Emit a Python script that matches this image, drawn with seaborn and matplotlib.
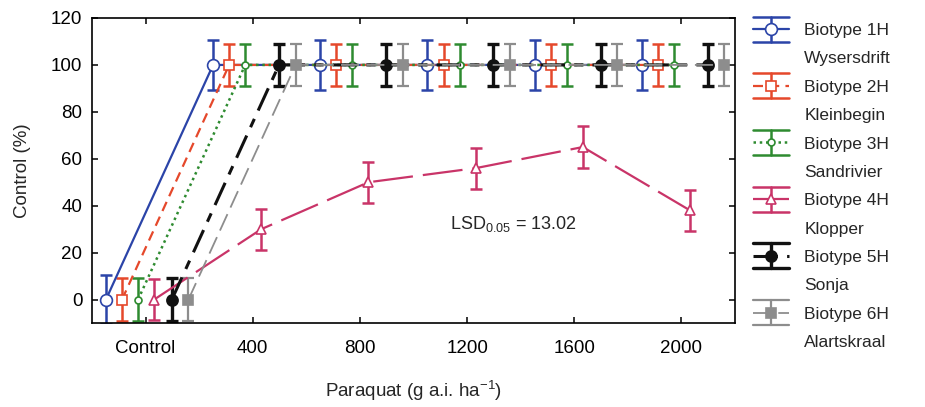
import numpy as np
import pandas as pd
import matplotlib
matplotlib.use("Agg")
import matplotlib.pyplot as plt
import seaborn as sns
from matplotlib.lines import Line2D
from matplotlib.legend_handler import HandlerBase

# Paraquat rates (categorical x axis)
rates = ["Control", "400", "800", "1200", "1600", "2000"]

# Biotype names and collection sites
biotypes = ["Biotype 1H", "Biotype 2H", "Biotype 3H", "Biotype 4H", "Biotype 5H", "Biotype 6H"]
sites = ["Wysersdrift", "Kleinbegin", "Sandrivier", "Klopper", "Sonja", "Alartskraal"]

# Control (%) per biotype across rates
control_1h = [0, 100, 100, 100, 100, 100]
control_2h = [0, 100, 100, 100, 100, 100]
control_3h = [0, 100, 100, 100, 100, 100]
control_4h = [0, 30, 50, 56, 65, 38]
control_5h = [0, 100, 100, 100, 100, 100]
control_6h = [0, 100, 100, 100, 100, 100]

# Half-width of the error bars per biotype
error_1h = 10.5
error_2h = 9.0
error_3h = 9.0
error_4h = 8.8
error_5h = 9.0
error_6h = 9.0

lsd_text = "LSD$_{0.05}$ = 13.02"

values = [control_1h, control_2h, control_3h, control_4h, control_5h, control_6h]
errors = [error_1h, error_2h, error_3h, error_4h, error_5h, error_6h]

# Visual style of each biotype
styles = [
    dict(color="#2b44a8", linestyle="-", linewidth=1.6, marker="o", markersize=8.5, mfc="white", elw=1.8),
    dict(color="#e5482b", linestyle=(0, (4.5, 2.8)), linewidth=1.6, marker="s", markersize=7.5, mfc="white", elw=1.8),
    dict(color="#2e8b30", linestyle=(0, (1.0, 1.5)), linewidth=1.8, marker="o", markersize=5.0, mfc="white", elw=1.8),
    dict(color="#c93468", linestyle=(0, (18, 4.5)), linewidth=1.6, marker="^", markersize=7.0, mfc="white", elw=1.8),
    dict(color="#111111", linestyle=(0, (8, 3, 3, 3)), linewidth=2.2, marker="o", markersize=8.0, mfc="#111111", elw=2.4),
    dict(color="#8d8d8d", linestyle=(0, (10, 4)), linewidth=1.3, marker="s", markersize=7.0, mfc="#8d8d8d", elw=1.6),
]
# Horizontal dodge of each biotype within a rate group
offsets = [-0.37, -0.22, -0.07, 0.08, 0.245, 0.40]

sns.set_style("ticks")
plt.rcParams["font.family"] = ["Liberation Sans", "DejaVu Sans"]
plt.rcParams["mathtext.fontset"] = "custom"
plt.rcParams["mathtext.rm"] = "Liberation Sans"
plt.rcParams["mathtext.it"] = "Liberation Sans:italic"
plt.rcParams["mathtext.bf"] = "Liberation Sans:bold"
plt.rcParams["mathtext.default"] = "regular"

rows = []
for name, vals, off in zip(biotypes, values, offsets):
    for i, (r, v) in enumerate(zip(rates, vals)):
        rows.append(dict(biotype=name, rate=r, pos=i + off, control=v))
df = pd.DataFrame(rows)

fig = plt.figure(figsize=(9.25, 4.07), dpi=100)
ax = fig.add_axes([92 / 925, (407 - 323) / 407, 643 / 925, 305 / 407])

handles = []
for name, err, st in zip(biotypes, errors, styles):
    sub = df[df["biotype"] == name]
    ax.errorbar(sub["pos"], sub["control"], yerr=err, fmt="none",
                ecolor=st["color"], elinewidth=st["elw"], capsize=4.3,
                capthick=st["elw"], zorder=2)
    sns.lineplot(data=sub, x="pos", y="control", ax=ax, color=st["color"],
                 linestyle=st["linestyle"], linewidth=st["linewidth"],
                 marker=st["marker"], markersize=st["markersize"],
                 markerfacecolor=st["mfc"], markeredgecolor=st["color"],
                 markeredgewidth=1.2, errorbar=None, sort=False, zorder=3)
    handles.append(Line2D([], [], color=st["color"], linestyle=st["linestyle"],
                          linewidth=st["linewidth"], marker=st["marker"],
                          markersize=st["markersize"], markerfacecolor=st["mfc"],
                          markeredgecolor=st["color"], markeredgewidth=1.2))


class ErrorbarKey(HandlerBase):
    """Legend key: series line with an error bar whose caps span the key."""

    def __init__(self, elw, **kw):
        super().__init__(**kw)
        self.elw = elw

    def create_artists(self, legend, orig_handle, xdescent, ydescent,
                       width, height, fontsize, trans):
        x0, x1 = -xdescent, width - xdescent
        xm = 0.5 * (x0 + x1)
        y0 = 0.5 * height - ydescent
        e = 9.0
        col = orig_handle.get_color()
        line = Line2D([x0, x1], [y0, y0])
        self.update_prop(line, orig_handle, legend)
        line.set_marker("None")
        bar = Line2D([xm, xm], [y0 - e, y0 + e], color=col, lw=self.elw)
        cap_top = Line2D([x0, x1], [y0 + e, y0 + e], color=col, lw=self.elw)
        cap_bot = Line2D([x0, x1], [y0 - e, y0 - e], color=col, lw=self.elw)
        mark = Line2D([xm], [y0])
        self.update_prop(mark, orig_handle, legend)
        mark.set_linestyle("None")
        arts = [line, bar, cap_top, cap_bot, mark]
        for a in arts:
            a.set_transform(trans)
        return arts


leg_handles, leg_labels, hmap = [], [], {}
for h, name, site, st in zip(handles, biotypes, sites, styles):
    leg_handles.append(h)
    leg_labels.append(name)
    hmap[h] = ErrorbarKey(st["elw"])
    leg_handles.append(Line2D([], [], linestyle="None"))
    leg_labels.append(site)

fig.legend(leg_handles, leg_labels, handler_map=hmap, loc="upper left",
           bbox_to_anchor=(753 / 925, 1 - 23 / 407), frameon=False,
           fontsize=12.5, handlelength=2.1, handletextpad=0.85,
           labelspacing=0.76, borderpad=0, borderaxespad=0)

ax.text(2.84, 30.2, lsd_text, fontsize=13, va="baseline", ha="left")

ax.set_xlim(-0.5, 5.5)
ax.set_ylim(-10, 120)
ax.set_xticks(range(len(rates)), rates)
ax.set_yticks(np.arange(0, 121, 20))
ax.tick_params(direction="in", top=True, right=True, length=4, width=1.1,
               labelsize=13.5, colors="black")
ax.tick_params(axis="x", pad=12)
ax.tick_params(axis="y", pad=7)
for s in ax.spines.values():
    s.set_visible(True)
    s.set_linewidth(1.2)
    s.set_color("black")

ax.set_xlabel("Paraquat (g a.i. ha$^{-1}$)", fontsize=13.5, labelpad=16)
ax.set_ylabel("Control (%)", fontsize=13.5, labelpad=14)

fig.savefig("out.png", dpi=100, facecolor="white")
